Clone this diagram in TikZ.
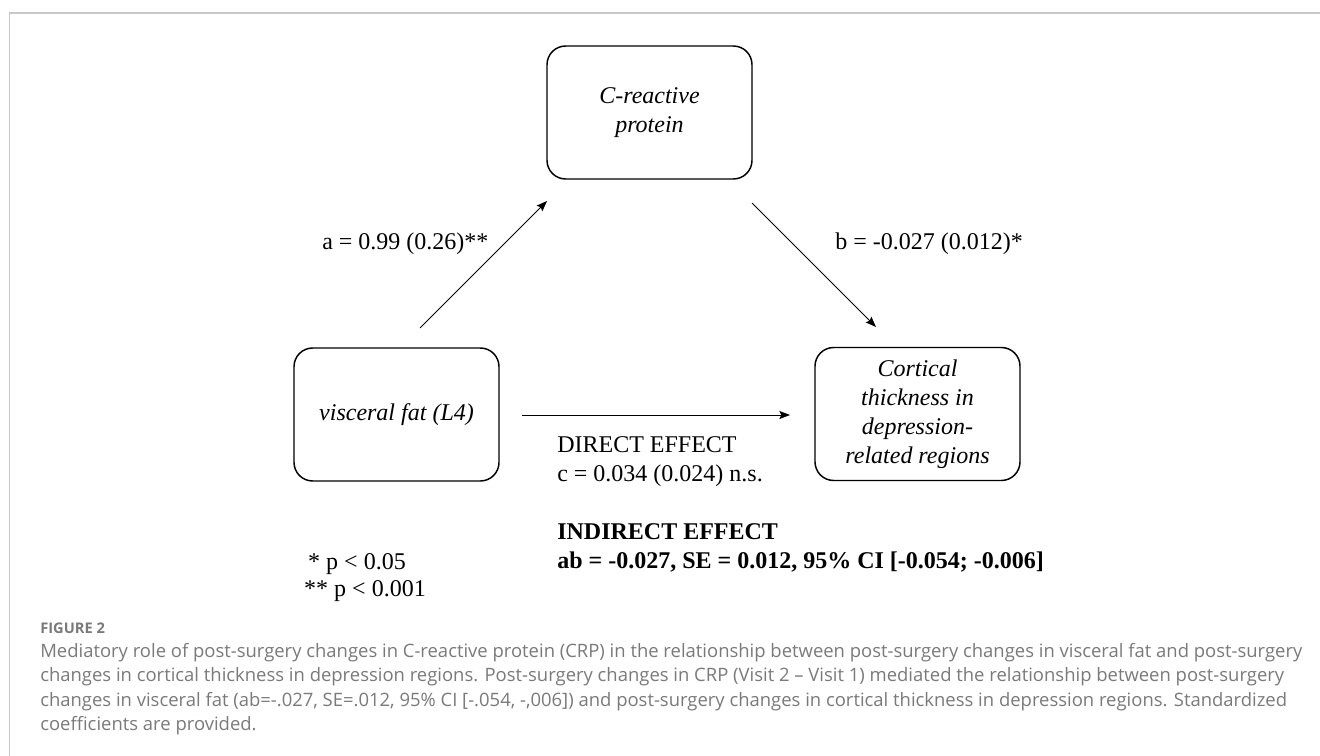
\documentclass[tikz,border=0pt]{standalone}
\usepackage{fontspec}
\setmainfont{Liberation Serif}
\newfontfamily\capfont{Open Sans}
\usetikzlibrary{arrows.meta}
\definecolor{capgray}{HTML}{7A7A7A}
\definecolor{framegray}{HTML}{C8C8C8}
\newcommand\dgfont{\fontsize{18pt}{21.75pt}\selectfont}
\newsavebox\cmeasure
\begin{document}
\sbox\cmeasure{\capfont\fontsize{10pt}{12pt}\selectfont Mediatory role of post-surgery changes in C-reactive protein (CRP) in the relationship between post-surgery changes in visceral fat and post-surgery}%
\pgfmathsetmacro\capsz{10*946.5/\the\wd\cmeasure}%
\begin{tikzpicture}[x=0.75pt,y=-0.75pt,
  box/.style={draw=black, line width=1.1pt, rounded corners=14pt,
    minimum width=153.75pt, minimum height=99.75pt, inner sep=0pt,
    align=center, font=\dgfont\itshape},
  arr/.style={line width=0.6pt, -{Stealth[length=8pt,width=6pt,inset=1.5pt]}},
  lbl/.style={inner sep=0pt, font=\dgfont},
  blbl/.style={inner sep=0pt, font=\dgfont\bfseries},
  capline/.style={inner sep=0pt, text=capgray, font=\capfont\fontsize{\capsz pt}{14pt}\selectfont},
]
\useasboundingbox (0,0) rectangle (1320,756);
\fill[white] (0,0) rectangle (1320,756);
\draw[framegray, line width=0.9pt] (9.5,756) -- (9.5,13) -- (1320,13);

% boxes
\node[box] (crp) at (649.5,112.5) {C-reactive\\protein};
\node[box] (vf)  at (396.5,414.5) {visceral fat (L4)};
\node[box] (ct)  at (917.5,414) {Cortical\\thickness in\\depression-\\related regions};

% connector end points
\coordinate (a1) at (420,328);
\coordinate (a2) at (547,201);
\coordinate (b1) at (752,203);
\coordinate (b2) at (876,327);
\coordinate (c1) at (522,415);
\coordinate (c2) at (790,415);
\draw[arr] (a1) -- (a2);
\draw[arr] (b1) -- (b2);
\draw[arr] (c1) -- (c2);

% labels
\node[lbl, anchor=base west] (la) at (322,249) {a = 0.99 (0.26)**};
\node[lbl, anchor=base west] (lb) at (835,249) {b = -0.027 (0.012)*};
\node[lbl, anchor=base west] (d1) at (557,452) {DIRECT EFFECT};
\node[lbl, anchor=base west] (d2) at (557,481) {c = 0.034 (0.024) n.s.};
\node[blbl, anchor=base west] (i1) at (557,539) {INDIRECT EFFECT};
\node[blbl, anchor=base west] (i2) at (557,568) {ab = -0.027, SE = 0.012, 95\% CI [-0.054; -0.006]};
\node[lbl, anchor=base] (p1) at (357,569) {* p < 0.05};
\node[lbl, anchor=base] (p2) at (365,596) {** p < 0.001};

% caption
\node[inner sep=0pt, anchor=base west, text=capgray, font=\capfont\bfseries\fontsize{11pt}{13pt}\selectfont] (fig) at (40,633) {FIGURE 2};
\node[capline, anchor=base west] (cap1) at (40,657) {Mediatory role of post-surgery changes in C-reactive protein (CRP) in the relationship between post-surgery changes in visceral fat and post-surgery};
\node[capline, anchor=base west] (cap2) at (40,681.5) {changes in cortical thickness in depression regions. Post-surgery changes in CRP (Visit 2 – Visit 1) mediated the relationship between post-surgery};
\node[capline, anchor=base west] (cap3) at (40,706) {changes in visceral fat (ab=-.027, SE=.012, 95\% CI [-.054, -,006]) and post-surgery changes in cortical thickness in depression regions. Standardized};
\node[capline, anchor=base west] (cap4) at (40,730.5) {coefficients are provided.};
\end{tikzpicture}
\end{document}
